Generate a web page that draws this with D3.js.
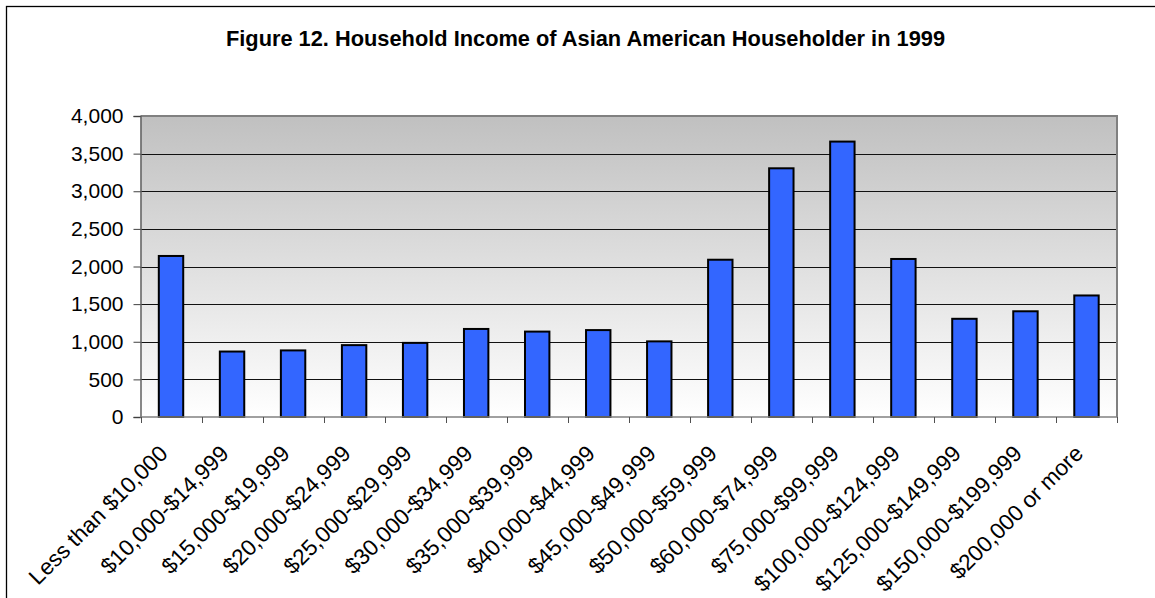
<!DOCTYPE html>
<html><head><meta charset="utf-8">
<script src="https://cdn.jsdelivr.net/npm/d3@7"></script>
<style>html,body{margin:0;padding:0;background:#fff}svg{display:block}</style>
</head><body>
<svg id="chart" width="1155" height="598"></svg>
<script>
const title = "Figure 12. Household Income of Asian American Householder in 1999";
const categories = ["Less than $10,000","$10,000-$14,999","$15,000-$19,999","$20,000-$24,999","$25,000-$29,999","$30,000-$34,999","$35,000-$39,999","$40,000-$44,999","$45,000-$49,999","$50,000-$59,999","$60,000-$74,999","$75,000-$99,999","$100,000-$124,999","$125,000-$149,999","$150,000-$199,999","$200,000 or more"];
const values = [2140, 870, 885, 955, 985, 1170, 1135, 1155, 1005, 2090, 3305, 3660, 2100, 1305, 1405, 1615];
const yTicks = [0, 500, 1000, 1500, 2000, 2500, 3000, 3500, 4000];

const svg = d3.select("#chart");
const L = 140.5, R = 1117, T = 116, B = 417;
const font = "'Liberation Sans', Arial, sans-serif";

// outer frame
svg.append("rect").attr("x", 6.5).attr("y", 6.5).attr("width", 1200).attr("height", 700)
  .attr("fill", "#fff").attr("stroke", "#000").attr("stroke-width", 1.3);

// title
svg.append("text").attr("x", 585.5).attr("y", 45.7).attr("text-anchor", "middle")
  .attr("font-family", font).attr("font-weight", "bold").attr("font-size", 21.8)
  .attr("fill", "#000").text(title);

const x = d3.scaleBand().domain(categories).range([L, R]).padding(0);
const step = x.step();
const y = d3.scaleLinear().domain([0, 4000]).range([B, T]);

// gradient background
const defs = svg.append("defs");
const grad = defs.append("linearGradient").attr("id", "bg").attr("x1", 0).attr("y1", 0).attr("x2", 0).attr("y2", 1);
grad.append("stop").attr("offset", "0%").attr("stop-color", "#c0c0c0");
grad.append("stop").attr("offset", "100%").attr("stop-color", "#ffffff");
svg.append("rect").attr("x", L).attr("y", T).attr("width", R - L).attr("height", B - T).attr("fill", "url(#bg)");

// gridlines
svg.append("g").selectAll("line").data(yTicks.filter(d => d > 0 && d < 4000)).join("line")
  .attr("x1", L).attr("x2", R).attr("y1", d => Math.round(y(d)) + 0.5).attr("y2", d => Math.round(y(d)) + 0.5)
  .attr("stroke", "#111").attr("stroke-width", 1);

// plot border top/right
svg.append("path").attr("d", `M${L},${T}H${R}V${B}`).attr("fill", "none").attr("stroke", "#808080").attr("stroke-width", 2);

// bars
svg.append("g").selectAll("rect").data(values).join("rect")
  .attr("x", (d, i) => x(categories[i]) + step * 0.3)
  .attr("width", step * 0.4)
  .attr("y", d => y(d))
  .attr("height", d => B - y(d))
  .attr("fill", "#3366ff").attr("stroke", "#000").attr("stroke-width", 2);

// y axis
const yAxis = d3.axisLeft(y).tickValues(yTicks).tickFormat(d3.format(",")).tickSize(7).tickPadding(10);
const gy = svg.append("g").attr("transform", `translate(${L},0)`).call(yAxis);
gy.select(".domain").attr("stroke", "#606060").attr("stroke-width", 1.5);
gy.selectAll(".tick line").attr("stroke", "#404040");
gy.selectAll("text").attr("font-family", font).attr("font-size", 21).attr("fill", "#000");

// x axis line and ticks
svg.append("line").attr("x1", L).attr("x2", R).attr("y1", B).attr("y2", B).attr("stroke", "#808080").attr("stroke-width", 1.5);
const bounds = categories.map(c => x(c)).concat([R]);
svg.append("g").selectAll("line").data(bounds).join("line")
  .attr("x1", d => Math.round(d) + 0.5).attr("x2", d => Math.round(d) + 0.5).attr("y1", B).attr("y2", B + 6)
  .attr("stroke", "#505050");

// x labels
svg.append("g").selectAll("text").data(categories).join("text")
  .attr("transform", c => `translate(${x(c) + step / 2 - 2},${B + 38}) rotate(-45)`)
  .attr("text-anchor", "end")
  .attr("font-family", font).attr("font-size", 22.5).attr("fill", "#000")
  .text(c => c);
</script>
</body></html>
